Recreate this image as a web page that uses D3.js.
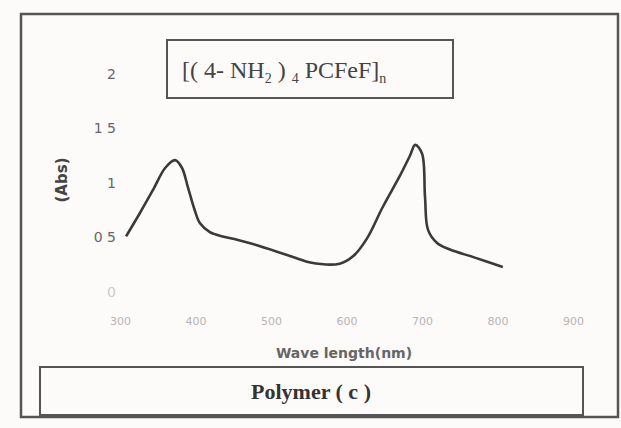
<!DOCTYPE html>
<html>
<head>
<meta charset="utf-8">
<script src="https://cdn.jsdelivr.net/npm/d3@7"></script>
<style>
  body { margin: 0; background: #fdfafa; }
  svg { display: block; }
</style>
</head>
<body>
<div id="chart"></div>
<script>
// spectrum
const wavelength = [308, 326, 344, 360, 373, 382, 390, 399, 406, 419, 436, 455, 476, 508, 534, 552, 591, 609, 627, 648, 671, 684, 691, 700, 704, 708, 720, 737, 768, 807];
const absorbance = [0.51, 0.72, 0.94, 1.14, 1.21, 1.14, 0.96, 0.75, 0.63, 0.55, 0.51, 0.48, 0.44, 0.37, 0.31, 0.27, 0.26, 0.33, 0.49, 0.78, 1.07, 1.25, 1.35, 1.27, 0.87, 0.57, 0.45, 0.39, 0.32, 0.23];
const xTicks = [300, 400, 500, 600, 700, 800, 900];
const yTicks = [0, 0.5, 1, 1.5, 2];
const yTickLabels = ["0", "0 5", "1", "1 5", "2"];

const width = 621, height = 428;

const svg = d3.select("#chart")
  .append("svg")
  .attr("width", width)
  .attr("height", height);

// outer frame
svg.append("rect")
  .attr("x", 21).attr("y", 14)
  .attr("width", 597).attr("height", 403)
  .attr("fill", "none")
  .attr("stroke", "#555")
  .attr("stroke-width", 2.5);

const x = d3.scaleLinear().domain([300, 900]).range([120, 573]);
const y = d3.scaleLinear().domain([0, 2]).range([292, 74]);

// x axis (no line, only labels)
const xAxis = svg.append("g")
  .attr("transform", "translate(0,317)")
  .call(d3.axisBottom(x).tickValues(xTicks).tickSize(0).tickPadding(0).tickFormat(d3.format("d")));
xAxis.select(".domain").remove();
xAxis.selectAll("text")
  .attr("fill", "#b8b4b4")
  .style("font-family", "DejaVu Sans, sans-serif")
  .style("font-size", "11px");

// y axis (no line, only labels)
const yAxis = svg.append("g")
  .attr("transform", "translate(116,0)")
  .call(d3.axisLeft(y).tickValues(yTicks).tickSize(0).tickPadding(0)
    .tickFormat((d, i) => yTickLabels[i]));
yAxis.select(".domain").remove();
yAxis.selectAll("text")
  .attr("fill", (d, i) => i === 0 ? "#ccc" : "#666")
  .style("font-family", "DejaVu Sans, sans-serif")
  .style("font-size", "14px");

// axis titles
svg.append("text")
  .attr("transform", "translate(67,180) rotate(-90)")
  .attr("text-anchor", "middle")
  .attr("fill", "#444")
  .style("font-family", "DejaVu Sans, sans-serif")
  .style("font-weight", "bold")
  .style("font-size", "15px")
  .text("(Abs)");

svg.append("text")
  .attr("x", 344).attr("y", 358)
  .attr("text-anchor", "middle")
  .attr("fill", "#666")
  .style("font-family", "DejaVu Sans, sans-serif")
  .style("font-weight", "bold")
  .style("font-size", "14px")
  .text("Wave length(nm)");

// curve
const line = d3.line()
  .x((d, i) => x(wavelength[i]))
  .y(d => y(d))
  .curve(d3.curveCatmullRom.alpha(0.5));

svg.append("path")
  .datum(absorbance)
  .attr("d", line)
  .attr("fill", "none")
  .attr("stroke", "#3a3a3a")
  .attr("stroke-width", 2.6)
  .attr("stroke-linejoin", "round");

// formula box
svg.append("rect")
  .attr("x", 167).attr("y", 40)
  .attr("width", 286).attr("height", 58)
  .attr("fill", "none")
  .attr("stroke", "#555")
  .attr("stroke-width", 2);

const formula = svg.append("text")
  .attr("x", 182).attr("y", 78)
  .attr("fill", "#444")
  .style("font-family", "Liberation Serif, serif")
  .style("font-size", "24px");
formula.append("tspan").text("[( 4- NH");
formula.append("tspan").attr("dy", 5).style("font-size", "14px").text("2");
formula.append("tspan").attr("dy", -5).text(" ) ");
formula.append("tspan").attr("dy", 5).style("font-size", "14px").text("4");
formula.append("tspan").attr("dy", -5).text(" PCFeF]");
formula.append("tspan").attr("dy", 5).style("font-size", "14px").text("n");

// caption box
svg.append("rect")
  .attr("x", 40).attr("y", 367)
  .attr("width", 543).attr("height", 48)
  .attr("fill", "none")
  .attr("stroke", "#555")
  .attr("stroke-width", 2);

svg.append("text")
  .attr("x", 311).attr("y", 399)
  .attr("text-anchor", "middle")
  .attr("fill", "#333")
  .style("font-family", "Liberation Serif, serif")
  .style("font-weight", "bold")
  .style("font-size", "22px")
  .text("Polymer ( c )");
</script>
</body>
</html>
